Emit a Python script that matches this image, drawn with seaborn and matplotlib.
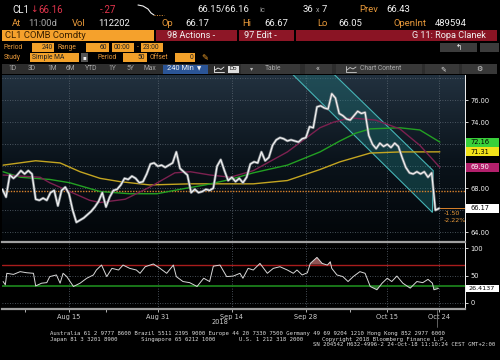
import numpy as np
import matplotlib
matplotlib.use("Agg")
import matplotlib.pyplot as plt
import seaborn as sns
from matplotlib.patches import Rectangle, Polygon
from matplotlib.lines import Line2D
from matplotlib.colors import LinearSegmentedColormap

sns.set_theme(style="dark", rc={"axes.facecolor": "black", "figure.facecolor": "black"})
plt.rcParams["font.family"] = ["DejaVu Sans"]
HEAD = ["Roboto", "DejaVu Sans"]

# ---------------- data ----------------
# x axis = trading-day index, 0 = Aug 15 2018
tick_days = [0, 12, 22, 32, 43, 50]
tick_labels = ["Aug 15", "Aug 31", "Sep 14", "Sep 28", "Oct 15", "Oct 24"]
minor_days = [-6, 5, 38]

price_start_day = -9.0
price_step = 0.5
close = [67.9, 67.2, 69.2, 68.9, 69.2, 69.6, 69.3, 69.6, 69.3, 67.0,
         66.9, 67.1, 66.9, 67.6, 67.8, 66.4, 67.8, 68.1, 67.5, 66.0,
         64.9, 65.1, 65.3, 65.6, 65.9, 66.3, 66.8, 67.6, 66.3, 67.2,
         67.8, 67.9, 68.3, 68.9, 68.8, 69.1, 68.9, 68.5, 68.6, 69.3,
         70.2, 70.3, 70.0, 70.1, 69.9, 70.1, 70.3, 71.3, 69.8, 69.5,
         69.2, 67.6, 67.9, 67.6, 67.7, 67.9, 67.8, 68.0, 70.0, 70.6,
         69.6, 68.7, 69.0, 68.6, 68.9, 68.5, 69.0, 70.2, 70.4, 70.3,
         71.3, 70.5, 70.8, 71.9, 72.4, 72.6, 72.5, 72.3, 72.4, 72.3,
         72.2, 72.5, 72.6, 73.6, 73.5, 75.4, 75.5, 75.3, 75.2, 76.6,
         76.2, 74.8, 74.6, 74.3, 74.2, 74.6, 75.0, 74.8, 74.9, 72.8,
         72.0, 71.6, 72.1, 71.8, 72.0, 71.7, 72.1, 71.8, 70.8, 69.9,
         69.4, 69.3, 69.5, 69.3, 69.5, 69.0, 69.4, 66.0, 66.17]

ma_green_days = [-8.9, -6.6, -2.6, 0.1, 4.2, 8.2, 11.9, 15.0, 18.4, 21.8, 24.9, 29.5, 33.9, 36.6, 38.7, 40.7, 44.7, 47.4, 50.1]
ma_green = [69.5, 69.0, 68.8, 68.5, 67.7, 67.5, 67.5, 67.9, 68.3, 68.8, 69.4, 70.1, 71.3, 72.3, 73.0, 73.4, 73.5, 73.3, 72.2]

ma_magenta_days = [-8.9, -3.9, -2.6, 0.1, 2.8, 4.2, 7.6, 10.9, 14.3, 16.4, 19.1, 21.8, 24.9, 29.5, 33.9, 35.7, 38.0, 41.4, 44.7, 47.4, 50.1]
ma_magenta = [69.2, 69.0, 68.5, 67.7, 66.9, 66.7, 67.0, 68.1, 69.4, 69.5, 69.2, 69.0, 69.6, 71.3, 73.5, 74.0, 74.4, 74.2, 73.4, 71.9, 69.9]

ma_yellow_days = [-8.9, -4.5, -1.2, 1.5, 4.2, 6.9, 10.9, 16.4, 21.8, 24.9, 29.5, 33.9, 36.6, 40.7, 44.7, 50.1]
ma_yellow = [70.1, 70.5, 70.3, 69.5, 68.9, 68.6, 68.3, 68.4, 68.4, 68.4, 68.7, 69.7, 70.4, 71.2, 71.3, 71.31]

channel_days = [29.25, 34.83, 49.2, 49.1]
channel_vals = [79.0, 79.0, 69.6, 65.8]
ref_level = 67.78
last_price = 66.17

rsi_days = [-8.9, -8.6, -8.4, -7.5, -6.6, -5.7, -4.8, -4.5, -3.7, -3.0, -2.6, -1.7, -1.2, -0.8, -0.3,
            0.6, 1.5, 2.4, 3.3, 3.7, 4.4, 5.1, 5.8, 6.7, 7.3, 8.2, 9.1, 9.6, 10.3, 11.4, 12.3, 13.2,
            14.1, 14.5, 15.4, 16.3, 17.3, 18.2, 19.0, 19.5, 20.4, 21.3, 22.2, 23.1, 23.5, 24.2, 24.9,
            25.8, 26.8, 27.6, 28.5, 29.5, 30.3, 30.8, 31.5, 32.2, 32.6, 33.5, 34.2, 34.9, 35.3, 35.5,
            36.2, 37.0, 37.7, 38.4, 39.3, 40.0, 40.7, 41.6, 42.3, 43.0, 43.6, 44.3, 45.1, 46.1, 47.0,
            47.8, 48.5, 49.1, 49.3, 49.9]
rsi = [39, 33, 54, 52, 57, 55, 54, 31, 36, 37, 48, 51, 36, 54, 48,
       30, 36, 45, 51, 60, 69, 48, 63, 60, 69, 63, 60, 54, 66, 71, 63, 54,
       69, 48, 39, 37, 30, 45, 39, 67, 69, 48, 49, 54, 45, 63, 60,
       72, 54, 63, 66, 60, 54, 60, 51, 55, 72, 83, 72, 69, 75, 63,
       51, 48, 39, 48, 57, 54, 30, 24, 36, 45, 39, 49, 36, 27, 39,
       37, 43, 36, 24, 26.41]
rsi_last = 26.4137

# --------------- figure ---------------
W, H = 500, 360
fig = plt.figure(figsize=(5, 3.6), dpi=100)
fig.patch.set_facecolor("black")

AMBER = "#e8993a"
WHITE = "#f2f2f2"
RED = "#e2344c"


def fx(x):
    return x / W


def fy(y):
    return 1 - y / H


def T(x, y, s, color=WHITE, size=6, ha="left", family=None, weight="normal"):
    fam = family if family is not None else HEAD
    fig.text(fx(x), fy(y), s, color=color, fontsize=size, ha=ha, va="center",
             weight=weight, family=fam)


def R(x0, y0, x1, y1, color, z=1):
    fig.add_artist(Rectangle((fx(x0), fy(y1)), (x1 - x0) / W, (y1 - y0) / H,
                             transform=fig.transFigure, fc=color, ec="none", zorder=z))


def L(xs, ys, color=WHITE, lw=0.6, ls="-"):
    fig.add_artist(Line2D([fx(v) for v in xs], [fy(v) for v in ys], color=color, lw=lw,
                          ls=ls, transform=fig.transFigure, zorder=4))


# ---- header row 1
T(12, 10, "CL1", size=7)
T(30, 10, "\u2193", color=RED, size=6.5, family=["DejaVu Sans"])
T(38, 10, "66.16", color=RED, size=7)
T(100, 10, "-.27", color=RED, size=7)
L([138, 143, 148, 151, 154], [5, 6, 9, 13, 15], lw=0.8)
L([154, 164], [15, 15], color=AMBER, lw=0.7, ls=(0, (1, 1.5)))
T(197, 10, "66.15/66.16", size=6.8)
T(259, 10.5, "ic", color="#9a9a9a", size=5.5)
T(303, 10, "36", size=6.8)
T(316, 10.5, "x", color="#aaaaaa", size=5)
T(322, 10, "7", size=6.8)
T(359, 10, "Prev", color=AMBER, size=6.8)
T(386, 10, "66.43", size=6.8)

# ---- header row 2
y2 = 23
T(12, y2, "At", color=AMBER, size=6.8)
T(28, y2, "11:00d", color="#a8a8a8", size=6.8)
T(72, y2, "Vol", color=AMBER, size=6.8)
T(98, y2, "112202", size=6.8)
T(162, y2, "Op", color=AMBER, size=6.8)
T(185, y2, "66.17", size=6.8)
T(242, y2, "Hi", color=AMBER, size=6.8)
T(264, y2, "66.67", size=6.8)
T(317, y2, "Lo", color=AMBER, size=6.8)
T(338, y2, "66.05", size=6.8)
T(393, y2, "OpenInt", color=AMBER, size=6.8)
T(435, y2, "489594", size=6.8)

# ---- header row 3 (security bar)
R(2, 30, 154, 41, "#f5a12c")
T(5, 35.5, "CL1 COMB Comdty", color="#3a2000", size=6.8)
R(156, 30, 237, 41, "#8d1626")
T(167, 35.5, "98 Actions -", color=WHITE, size=6.6)
R(239, 30, 294, 41, "#8d1626")
T(244, 35.5, "97 Edit -", color=WHITE, size=6.6)
R(296, 30, 497, 41, "#8a1424")
T(486, 35.5, "G 11: Ropa Clanek", color=WHITE, size=6.6, ha="right")

# ---- header row 4
y4 = 47.5
BOX = "#f2a12a"
DARK = "#222222"
S = 4.9
T(4, y4, "Period", color=AMBER, size=S)
R(32, 43, 54, 52, BOX)
T(53, y4, "240", color=DARK, size=S, ha="right")
T(58, y4, "Range", color=AMBER, size=S)
R(86, 43, 109, 52, BOX)
T(107, y4, "60", color=DARK, size=S, ha="right")
R(112, 43, 134, 52, BOX)
T(114, y4, "00:00", color=DARK, size=S)
T(136.5, y4, "-", color=AMBER, size=S)
R(141, 43, 163, 52, BOX)
T(143, y4, "23:00", color=DARK, size=S)
R(440, 43, 477, 52, "#3c3c3c")
T(456, y4, "\u21b0", color=WHITE, size=5.5, family=["DejaVu Sans"])
R(480, 43, 499, 52, "#3c3c3c")

# ---- header row 5
y5 = 57.5
T(4, y5, "Study", color=AMBER, size=S)
R(30, 53, 79, 62, BOX)
T(32, y5, "Simple MA", color=DARK, size=S)
R(81, 53, 88, 62, "#555555")
T(84.5, y5, "\u25aa", color=WHITE, size=4, ha="center", family=["DejaVu Sans"])
T(97, y5, "Period", color=AMBER, size=S)
R(123, 53, 147, 62, BOX)
T(145, y5, "50", color=DARK, size=S, ha="right")
T(150, y5, "Offset", color=AMBER, size=S)
R(175, 53, 195, 62, BOX)
T(193, y5, "0", color=DARK, size=S, ha="right")
T(201, y5, "\u270e", color=BOX, size=6, family=["DejaVu Sans"])

# ---- header row 6 toolbar
R(2, 64, 497, 74, "#2d2d2d")
for xs, lab in [(8, "1D"), (28, "3D"), (47, "1M"), (66, "6M"), (85, "YTD"),
                (108, "1Y"), (127, "5Y"), (144, "Max")]:
    T(xs, 69, lab, color="#a8a8a8", size=S)
R(163, 64.5, 208, 73.5, "#2b5597")
T(167, 69, "240 Min", color=WHITE, size=5.3)
T(197, 69, "\u25bc", color=WHITE, size=4, family=["DejaVu Sans"])
# small chart / table icons
L([214, 214, 224], [65.5, 72, 72], lw=0.6)
L([215, 218, 221, 224], [70, 68, 69.5, 67], lw=0.6)
R(228, 66, 239, 72.5, "#dddddd", z=2)
T(229, 69, "Do", color="#111111", size=4.5)
R(241, 64, 300, 74, "#383838")
T(250, 69, "\u25be", color="#bbbbbb", size=4.5, family=["DejaVu Sans"])
T(265, 69, "Table", color="#a8a8a8", size=S)
R(305, 64, 332, 74, "#383838")
T(318, 69, "\u00ab", color="#cccccc", size=6, ha="center")
R(336, 64, 422, 74, "#383838")
L([346, 346, 356], [65.5, 72, 72], color="#cccccc", lw=0.6)
L([347, 350, 353, 356], [70, 67.5, 69, 67], color="#cccccc", lw=0.6)
T(360, 69, "Chart Content", color="#a8a8a8", size=S)
R(425, 64, 459, 74, "#383838")
T(440, 69, "\u270e", color="#dddddd", size=5, family=["DejaVu Sans"])
R(462, 64, 497, 74, "#383838")
T(476, 69, "\u2699", color="#dddddd", size=5, family=["DejaVu Sans"])

# --------------- price panel ---------------
XL = (-9.05, 53.5)
ax = fig.add_axes([fx(2), fy(241), 463 / W, 166 / H])
ax.set_xlim(*XL)
ax.set_ylim(63.2, 78.3)
cmap = LinearSegmentedColormap.from_list("bg", ["#020508", "#0b141c", "#22313f"])
ax.imshow(np.linspace(0, 1, 256).reshape(-1, 1), extent=[XL[0], XL[1], 63.2, 78.3],
          aspect="auto", cmap=cmap, origin="lower", zorder=0)

for yv in range(64, 79, 2):
    ax.axhline(yv, color="#5d6873", ls=(0, (1, 2)), lw=0.6, zorder=1)
for d in tick_days:
    ax.axvline(d, color="#5d6873", ls=(0, (1, 2)), lw=0.6, zorder=1)

ax.add_patch(Polygon(list(zip(channel_days, channel_vals)), closed=True, fc="#1f7f82",
                     alpha=0.35, ec="none", zorder=2))
ax.add_patch(Polygon(list(zip(channel_days, channel_vals)), closed=True, fc="none",
                     ec="#46b4b6", lw=0.8, zorder=2))

ax.axhline(ref_level, color="#d9822b", ls=(0, (1, 1)), lw=1.0, zorder=3)
ax.plot([50, XL[1]], [last_price, last_price], color="#d9822b", lw=0.7, zorder=3)

sns.lineplot(x=ma_yellow_days, y=ma_yellow, ax=ax, color="#c4a521", lw=1.0,
             estimator=None, sort=False, zorder=4)
sns.lineplot(x=ma_green_days, y=ma_green, ax=ax, color="#23a023", lw=1.0,
             estimator=None, sort=False, zorder=4)
sns.lineplot(x=ma_magenta_days, y=ma_magenta, ax=ax, color="#7c2150", lw=1.0,
             estimator=None, sort=False, zorder=4)

price_days = price_start_day + price_step * np.arange(len(close))
sns.lineplot(x=price_days, y=close, ax=ax, color="#80868b", lw=1.9,
             estimator=None, sort=False, zorder=5)
sns.lineplot(x=price_days, y=close, ax=ax, color="#f4f4f4", lw=0.85,
             estimator=None, sort=False, zorder=6)

ax.text(50.6, last_price - 0.45, "-1.50", color="#e8993a", fontsize=4.6, va="center")
ax.text(50.6, last_price - 1.15, "-2.22%", color="#e8993a", fontsize=4.6, va="center")

ax.set_xticks([])
ax.yaxis.tick_right()
ax.set_yticks([64, 66, 68, 70, 72, 74, 76])
ax.set_yticklabels(["64.00", "", "68.00", "", "", "74.00", "76.00"])
ax.tick_params(axis="y", colors=WHITE, labelsize=4.8, length=2, width=0.6, pad=2,
               right=True, labelcolor=WHITE)
ax.set_xlabel("")
ax.set_ylabel("")
for s in ["left", "top", "bottom"]:
    ax.spines[s].set_visible(False)
ax.spines["right"].set_color(WHITE)
ax.spines["right"].set_linewidth(0.7)

ytr = ax.get_yaxis_transform()
for val, txt, fc, tc in [(72.16, "72.16", "#39d03a", "#000000"),
                         (71.31, "71.31", "#f2e21a", "#000000"),
                         (69.90, "69.90", "#b3206c", "#ffffff"),
                         (66.17, "66.17", "#ffffff", "#000000")]:
    ax.add_patch(Rectangle((1.003, val - 0.4), 0.071, 0.8, transform=ytr, fc=fc,
                           ec="none", clip_on=False, zorder=10))
    ax.text(1.012, val, txt, transform=ytr, color=tc, fontsize=4.8, va="center",
            ha="left", zorder=11, clip_on=False)

# --------------- RSI panel ---------------
ax2 = fig.add_axes([fx(2), fy(309), 463 / W, 67 / H])
ax2.set_xlim(*XL)
ax2.set_ylim(-11, 111)
ax2.set_facecolor("black")
for yv in [0, 50, 100]:
    ax2.axhline(yv, color="#5d6873", ls=(0, (1, 2)), lw=0.6, zorder=1)
for d in tick_days:
    ax2.axvline(d, color="#5d6873", ls=(0, (1, 2)), lw=0.6, zorder=1)
ax2.axhline(70, color="#a81c1c", lw=1.0, zorder=2)
ax2.axhline(30, color="#1d8a1d", lw=1.2, zorder=2)
rs = np.array(rsi, dtype=float)
ax2.fill_between(rsi_days, rs, 70, where=rs > 70, interpolate=True,
                 color="#c07070", alpha=0.75, lw=0, zorder=3)
ax2.fill_between(rsi_days, rs, 30, where=rs < 30, interpolate=True,
                 color="#3f8f3f", alpha=0.75, lw=0, zorder=3)
sns.lineplot(x=rsi_days, y=rsi, ax=ax2, color="#d8d8d8", lw=0.7,
             estimator=None, sort=False, zorder=4)
ax2.set_xlabel("")
ax2.set_ylabel("")
ax2.yaxis.tick_right()
ax2.set_yticks([0, 50, 100])
ax2.set_yticklabels(["0", "50", "100"])
ax2.tick_params(axis="y", colors=WHITE, labelsize=4.8, length=2, width=0.6, pad=2,
                right=True)
ax2.set_xticks(tick_days)
ax2.set_xticklabels(tick_labels)
ax2.set_xticks(minor_days, minor=True)
ax2.tick_params(axis="x", which="both", colors="#d0d0d0", labelsize=4.8, length=2,
                width=0.6, pad=1.5, bottom=True)
for s in ["top", "bottom"]:
    ax2.spines[s].set_color("#a0a0a0")
    ax2.spines[s].set_linewidth(1.6)
ax2.spines["left"].set_visible(False)
ax2.spines["right"].set_color(WHITE)
ax2.spines["right"].set_linewidth(0.7)
ytr2 = ax2.get_yaxis_transform()
ax2.add_patch(Rectangle((1.003, rsi_last - 7), 0.071, 14, transform=ytr2, fc="#ffffff",
                        ec="none", clip_on=False, zorder=10))
ax2.text(1.008, rsi_last, "26.4137", transform=ytr2, color="#000000", fontsize=4.6,
         va="center", zorder=11, clip_on=False)

T(220, 322, "2018", color="#d0d0d0", size=4.8, ha="center", family=["DejaVu Sans"])
L([437, 437], [310, 327], color="#888888", lw=0.5)

# --------------- footer ---------------
MONO = ["DejaVu Sans Mono"]
T(50, 333, "Australia 61 2 9777 8600 Brazil 5511 2395 9000 Europe 44 20 7330 7500 "
           "Germany 49 69 9204 1210 Hong Kong 852 2977 6000", color="#dddddd", size=4.1,
  family=MONO)
T(50, 339, "Japan 81 3 3201 8900       Singapore 65 6212 1000       U.S. 1 212 318 2000",
  color="#dddddd", size=4.1, family=MONO)
T(447, 339, "Copyright 2018 Bloomberg Finance L.P.", color="#dddddd", size=4.1,
  family=MONO, ha="right")
T(495, 345, "SN 204542 H632-4996-2 24-Oct-18 11:10:24 CEST GMT+2:00", color="#dddddd",
  size=4.1, family=MONO, ha="right")

fig.savefig("out.png", dpi=100, facecolor="black")
